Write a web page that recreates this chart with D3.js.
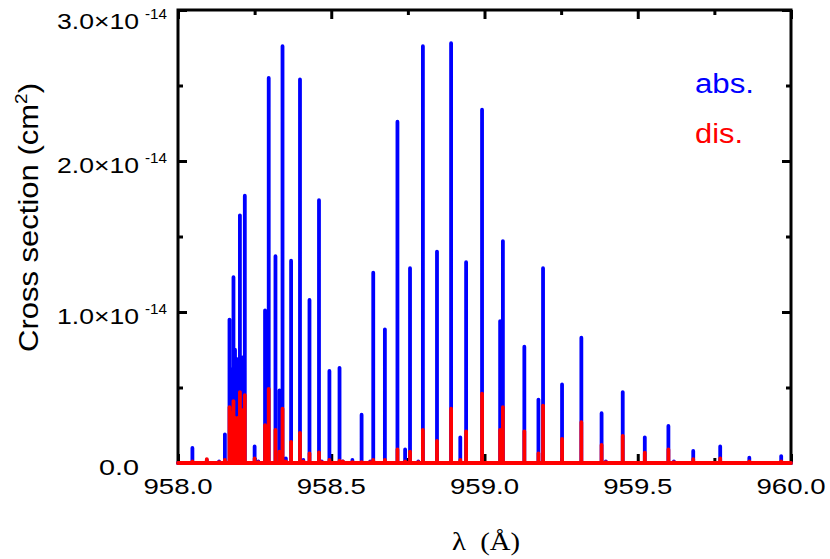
<!DOCTYPE html>
<html><head><meta charset="utf-8">
<script src="https://cdn.jsdelivr.net/npm/d3@7/dist/d3.min.js"></script>
<style>body{margin:0;background:#fff}svg{display:block}</style>
</head><body>
<svg id="c" width="830" height="559"></svg>
<script>
// wavelengths (Å) of the lines
const wavelengths = [958.047,958.094,958.134,958.153,958.168,958.171,958.174,958.177,958.181,958.186,958.191,958.194,958.197,958.202,958.206,958.210,958.214,958.218,958.250,958.262,958.284,958.296,958.318,958.331,958.341,958.352,958.369,958.398,958.409,958.429,958.460,958.469,958.494,958.527,958.538,958.569,958.599,958.627,958.637,958.675,958.716,958.741,958.757,958.784,958.799,958.845,958.891,958.921,958.940,958.992,959.051,959.060,959.130,959.176,959.191,959.253,959.316,959.382,959.396,959.451,959.523,959.600,959.618,959.681,959.769,959.864,959.968];
// absorption cross section peaks (units of 1e-14 cm^2)
const absValues = [0.10,0.02,0.01,0.19,0.95,0.62,0.60,0.62,1.23,0.75,0.69,0.66,0.65,1.64,0.68,0.70,0.69,1.77,0.11,0.01,1.01,2.55,1.37,0.48,2.76,0.03,1.34,2.54,0.02,1.08,1.74,0.01,0.61,0.63,0.01,0.02,0.32,0.01,1.26,0.885,2.26,0.09,1.29,0.01,2.76,1.40,2.78,0.17,1.33,2.34,0.94,1.47,0.77,0.42,1.29,0.52,0.83,0.33,0.01,0.47,0.17,0.245,0.01,0.08,0.11,0.035,0.046];
// dissociation cross section peaks (units of 1e-14 cm^2)
const disValues = [0.01,0.025,0.005,0.02,0.37,0.32,0.30,0.33,0.41,0.30,0.22,0.24,0.30,0.47,0.33,0.35,0.34,0.45,0.03,0.005,0.25,0.49,0.22,0.075,0.36,0.01,0.14,0.20,0.01,0.064,0.07,0.005,0.02,0.015,0.01,0.005,0.005,0.005,0.02,0.02,0.09,0.01,0.075,0.005,0.22,0.146,0.36,0.02,0.21,0.46,0.22,0.37,0.21,0.064,0.38,0.16,0.27,0.12,0.005,0.18,0.068,0.09,0.005,0.025,0.03,0.01,0.01];
const xDomain = [958.0, 960.0];
const yDomain = [0, 3.0];
const xMajorTicks = [958.0, 958.5, 959.0, 959.5, 960.0];
const xMinorTicks = [958.25, 958.75, 959.25, 959.75];
const xTickLabels = ["958.0","958.5","959.0","959.5","960.0"];
const yMajorTicks = [0, 1, 2, 3];
const yMinorTicks = [0.5, 1.5, 2.5];
const yTickMantissa = ["0.0","1.0\u00d710","2.0\u00d710","3.0\u00d710"];
const yTickExponent = ["","-14","-14","-14"];
const seriesNames = ["abs.","dis."];
const seriesColors = ["#0000ff","#ff0000"];

const L=178, R=791, T=10, B=463;
const svg = d3.select("#c");
const x = d3.scaleLinear().domain(xDomain).range([L,R]);
const y = d3.scaleLinear().domain(yDomain).range([B,T]);

function spectrumPoints(vals){
  const pts=[[xDomain[0],0]];
  wavelengths.forEach((w,i)=>{pts.push([w,0],[w,vals[i]],[w,0]);});
  pts.push([xDomain[1],0]);
  return pts;
}
const line = d3.line().x(d=>x(d[0])).y(d=>y(d[1]));

// frame
svg.append("rect").attr("x",L).attr("y",T).attr("width",R-L).attr("height",B-T)
  .attr("fill","none").attr("stroke","#000").attr("stroke-width",3);

// ticks
function tickAxis(axis, tr, vals, size){
  const g = svg.append("g").attr("transform",tr)
    .call(axis.tickValues(vals).tickSize(size).tickFormat(""));
  g.select(".domain").remove();
  g.selectAll(".tick line").attr("stroke","#000").attr("stroke-width",3);
}
tickAxis(d3.axisBottom(x),`translate(0,${B})`,xMajorTicks,-9);
tickAxis(d3.axisBottom(x),`translate(0,${B})`,xMinorTicks,-5);
tickAxis(d3.axisTop(x),`translate(0,${T})`,xMajorTicks,-9);
tickAxis(d3.axisTop(x),`translate(0,${T})`,xMinorTicks,-5);
tickAxis(d3.axisLeft(y),`translate(${L},0)`,yMajorTicks,-9);
tickAxis(d3.axisLeft(y),`translate(${L},0)`,yMinorTicks,-5);
tickAxis(d3.axisRight(y),`translate(${R},0)`,yMajorTicks,-9);
tickAxis(d3.axisRight(y),`translate(${R},0)`,yMinorTicks,-5);

// data
[absValues, disValues].forEach((vals,k)=>{
  svg.append("path").attr("d",line(spectrumPoints(vals)))
    .attr("fill","none").attr("stroke",seriesColors[k]).attr("stroke-width",3.8)
    .attr("stroke-linejoin","round").attr("stroke-linecap","round");
});

const sans = "'Liberation Sans', Arial, Helvetica, sans-serif";
function fitText(sel, w){ return sel.attr("textLength",w).attr("lengthAdjust","spacingAndGlyphs"); }
// x tick labels
xMajorTicks.forEach((v,i)=>{
  fitText(svg.append("text").attr("x",x(v)).attr("y",494)
    .attr("text-anchor","middle").attr("font-family",sans).attr("font-size",22.5)
    .attr("fill","#000").text(xTickLabels[i]), 69);
});
// y tick labels
yMajorTicks.forEach((v,i)=>{
  const by = i===3 ? 29 : y(v)+12;
  fitText(svg.append("text").attr("x",139).attr("y",by)
    .attr("text-anchor","end").attr("font-family",sans).attr("font-size",22.5)
    .attr("fill","#000").text(yTickMantissa[i]), i===0 ? 40 : 82);
  if(yTickExponent[i]){
    fitText(svg.append("text").attr("x",145).attr("y",by-10)
      .attr("text-anchor","start").attr("font-family",sans).attr("font-size",14.5)
      .attr("fill","#000").text(yTickExponent[i]), 22);
  }
});
// y title
const yt = svg.append("text").attr("transform","translate(38,352) rotate(-90) scale(1.12,1)")
  .attr("text-anchor","start").attr("font-family",sans).attr("font-size",27.7).attr("fill","#000");
yt.append("tspan").text("Cross section (cm");
yt.append("tspan").attr("font-size",17).attr("dy",-11).text("2");
yt.append("tspan").attr("dy",11).text(")");
// x title
fitText(svg.append("text").attr("x",486).attr("y",550)
  .attr("text-anchor","middle").attr("font-family","'Liberation Serif', 'Times New Roman', serif")
  .attr("font-size",25).attr("fill","#000").attr("xml:space","preserve").text("\u03bb  (\u00c5)"), 68);
// legend
const legendW = [59, 48];
seriesNames.forEach((n,i)=>{
  fitText(svg.append("text").attr("x",695).attr("y",92.7+50*i)
    .attr("font-family",sans).attr("font-size",27).attr("fill",seriesColors[i]).text(n), legendW[i]);
});
</script>
</body></html>
